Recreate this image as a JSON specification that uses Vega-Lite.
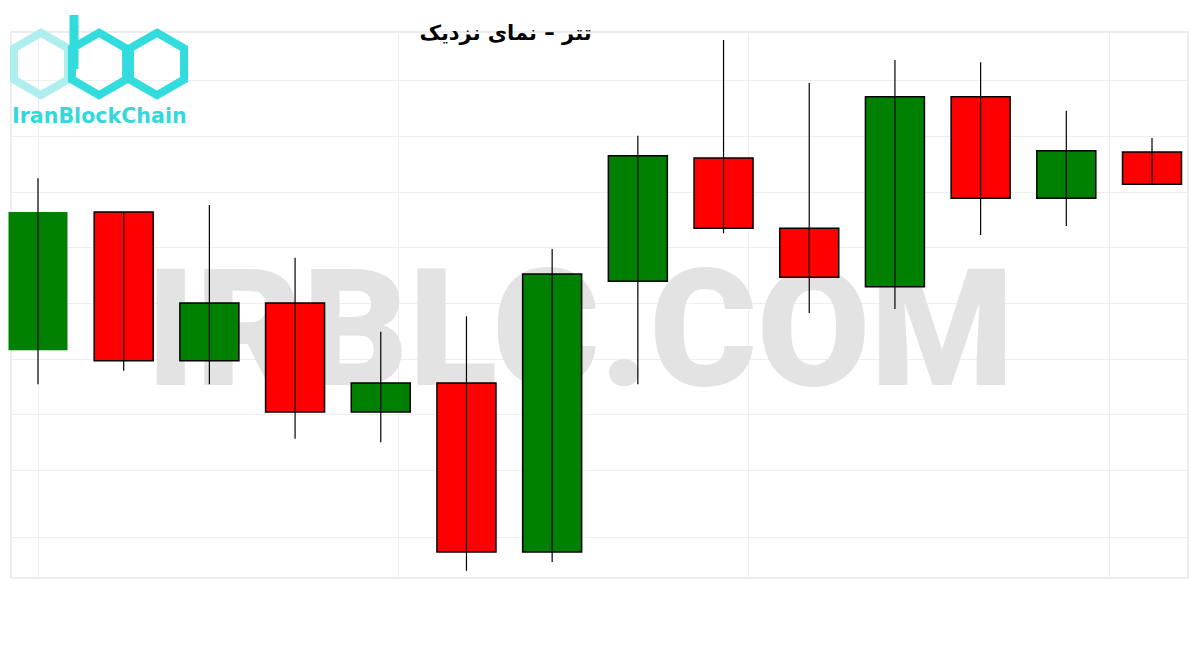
{
  "$schema": "https://vega.github.io/schema/vega-lite/v6.json",
  "width": 1177,
  "height": 546,
  "autosize": {"type": "none"},
  "padding": {"left": 11, "top": 32, "right": 12, "bottom": 72},
  "background": "white",
  "config": {
    "view": {"stroke": "#ececec", "strokeWidth": 2},
    "axis": {"labels": false, "ticks": false, "domain": false, "title": null, "gridColor": "#eeeeee", "gridWidth": 1}
  },
  "title": {
    "text": "تتر – نمای نزدیک",
    "font": "DejaVu Sans",
    "fontSize": 21,
    "fontWeight": "bold",
    "color": "#000000",
    "anchor": "middle",
    "dx": -94,
    "dy": 43,
    "offset": -8,
    "baseline": "alphabetic"
  },
  "datasets": {
    "candles": [
      {"i": 1, "open": 50215, "close": 50463, "high": 50524, "low": 50154},
      {"i": 2, "open": 50463, "close": 50196, "high": 50463, "low": 50178},
      {"i": 3, "open": 50196, "close": 50300, "high": 50476, "low": 50154},
      {"i": 4, "open": 50300, "close": 50104, "high": 50381, "low": 50056},
      {"i": 5, "open": 50104, "close": 50156, "high": 50248, "low": 50050},
      {"i": 6, "open": 50156, "close": 49853, "high": 50276, "low": 49819},
      {"i": 7, "open": 49853, "close": 50352, "high": 50397, "low": 49835},
      {"i": 8, "open": 50339, "close": 50564, "high": 50600, "low": 50154},
      {"i": 9, "open": 50560, "close": 50434, "high": 50772, "low": 50425},
      {"i": 10, "open": 50434, "close": 50346, "high": 50695, "low": 50282},
      {"i": 11, "open": 50329, "close": 50670, "high": 50736, "low": 50289},
      {"i": 12, "open": 50670, "close": 50488, "high": 50732, "low": 50422},
      {"i": 13, "open": 50488, "close": 50573, "high": 50645, "low": 50438},
      {"i": 14, "open": 50571, "close": 50513, "high": 50596, "low": 50513}
    ],
    "logoHex": [
      {"part": "i", "cx": 1.035, "cy": 50729},
      {"part": "b", "cx": 1.712, "cy": 50729},
      {"part": "c", "cx": 2.389, "cy": 50729}
    ]
  },
  "layer": [
    {
      "data": {"values": [{"label": "IRBLC.COM"}]},
      "mark": {"type": "text", "font": "Roboto", "fontWeight": 900, "fontSize": 164, "color": "#e3e3e3", "align": "center", "baseline": "alphabetic"},
      "encoding": {
        "x": {"datum": 7.325, "type": "quantitative"},
        "y": {"datum": 50153, "type": "quantitative"},
        "text": {"field": "label"}
      }
    },
    {
      "data": {"name": "logoHex"},
      "mark": {"type": "point", "shape": "M0,-1L0.866,-0.5L0.866,0.5L0,1L-0.866,0.5L-0.866,-0.5Z", "size": 3900, "strokeWidth": 8, "filled": false, "opacity": 1},
      "encoding": {
        "x": {"field": "cx", "type": "quantitative"},
        "y": {"field": "cy", "type": "quantitative"},
        "stroke": {"field": "part", "type": "nominal", "scale": {"domain": ["i", "b", "c"], "range": ["#aeeeee", "#33dcdc", "#33dcdc"]}, "legend": null}
      }
    },
    {
      "data": {"values": [{"label": "b"}]},
      "mark": {"type": "rule", "strokeWidth": 9, "color": "#33dcdc"},
      "encoding": {
        "x": {"datum": 1.42, "type": "quantitative"},
        "y": {"datum": 50817, "type": "quantitative"},
        "y2": {"datum": 50720}
      }
    },
    {
      "data": {"values": [{"label": "IranBlockChain"}]},
      "mark": {"type": "text", "font": "DejaVu Sans", "fontWeight": "bold", "fontSize": 20.6, "color": "#33d8dc", "align": "left", "baseline": "alphabetic"},
      "encoding": {
        "x": {"datum": 0.697, "type": "quantitative"},
        "y": {"datum": 50623, "type": "quantitative"},
        "text": {"field": "label"}
      }
    },
    {
      "data": {"name": "candles"},
      "mark": {"type": "bar", "size": 59, "stroke": "#000000", "strokeWidth": 1.5},
      "encoding": {
        "x": {
          "field": "i",
          "type": "quantitative",
          "scale": {"domain": [0.685, 14.42], "nice": false, "zero": false, "padding": 0},
          "axis": {"values": [1, 5.2, 9.29, 13.5], "grid": true, "title": null, "labels": false, "ticks": false, "domain": false}
        },
        "y": {
          "field": "open",
          "type": "quantitative",
          "scale": {"domain": [49806.1, 50786.4], "nice": false, "zero": false, "padding": 0},
          "axis": {"values": [49880, 50000, 50100, 50200, 50300, 50400, 50500, 50600, 50700], "grid": true, "title": null, "labels": false, "ticks": false, "domain": false}
        },
        "y2": {"field": "close"},
        "fill": {"condition": {"test": "datum.close >= datum.open", "value": "#008000"}, "value": "#ff0000"},
        "strokeOpacity": {"condition": {"test": "datum.i == 1", "value": 0}, "value": 1}
      }
    },
    {
      "data": {"name": "candles"},
      "mark": {"type": "rule", "color": "#000000", "strokeWidth": 1.2},
      "encoding": {
        "x": {"field": "i", "type": "quantitative"},
        "y": {"field": "high", "type": "quantitative"},
        "y2": {"field": "low"}
      }
    }
  ]
}
